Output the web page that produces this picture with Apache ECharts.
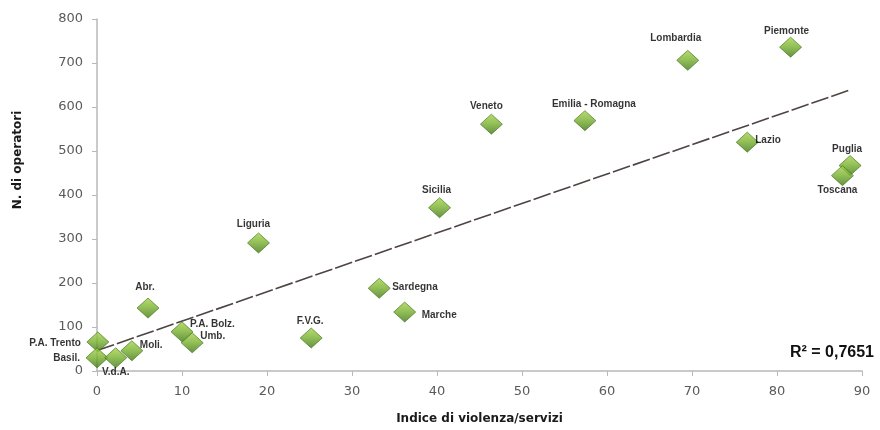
<!DOCTYPE html>
<html>
<head>
<meta charset="utf-8">
<script src="https://cdn.jsdelivr.net/npm/echarts@6/dist/echarts.min.js"></script>
<style>
html,body{margin:0;padding:0;background:#fff;}
#chart{width:880px;height:430px;}
</style>
</head>
<body>
<div id="chart"></div>
<script>
// ---- Data ----
var regions = ["Piemonte","Lombardia","Lazio","Puglia","Toscana","Veneto","Emilia - Romagna","Sicilia","Liguria","Sardegna","Marche","F.V.G.","Abr.","P.A. Bolz.","Umb.","Moli.","P.A. Trento","Basil.","V.d.A."];
var indiceViolenza = [81.6, 69.5, 76.5, 88.6, 87.7, 46.4, 57.4, 40.3, 19.0, 33.2, 36.2, 25.2, 6.0, 10.0, 11.2, 4.1, 0.1, 0.0, 2.2];
var nOperatori   = [736, 706, 520, 467, 444, 561, 569, 371, 291, 188, 134, 75, 143, 89, 64, 46, 66, 30, 30];
var xTicks = [0,10,20,30,40,50,60,70,80,90];
var yTicks = [0,100,200,300,400,500,600,700,800];
var r2Text = "R² = 0,7651";

// ---- Label placement (styling only): [align, dx, dy] relative to marker centre ----
var labelPlacement = {
  "Piemonte":["center",-4,-16],
  "Lombardia":["center",-12,-22],
  "Lazio":["left",8,-2],
  "Puglia":["center",-3,-16],
  "Toscana":["center",-5,15],
  "Veneto":["center",-5,-18],
  "Emilia - Romagna":["center",9,-16],
  "Sicilia":["center",-3,-18],
  "Liguria":["center",-5,-19],
  "Sardegna":["left",13,-1],
  "Marche":["left",17,3],
  "F.V.G.":["center",-1,-17],
  "Abr.":["center",-3,-21],
  "P.A. Bolz.":["left",8,-8],
  "Umb.":["left",8,-7],
  "Moli.":["left",8,-6],
  "P.A. Trento":["right",-17,1],
  "Basil.":["right",-17,0],
  "V.d.A.":["center",0,14]
};

// ---- Linear regression for the trendline ----
var n = indiceViolenza.length, sx=0, sy=0, sxx=0, sxy=0;
for (var i=0;i<n;i++){ sx+=indiceViolenza[i]; sy+=nOperatori[i]; sxx+=indiceViolenza[i]*indiceViolenza[i]; sxy+=indiceViolenza[i]*nOperatori[i]; }
var slope = (n*sxy - sx*sy)/(n*sxx - sx*sx);
var intercept = (sy - slope*sx)/n;
var minX = Math.min.apply(null, indiceViolenza), maxX = Math.max.apply(null, indiceViolenza);
var trend = [[minX, intercept+slope*minX],[maxX, intercept+slope*maxX]];

var pts = regions.map(function(name, i){
  var p = labelPlacement[name];
  return {
    name: name,
    value: [indiceViolenza[i], nOperatori[i]],
    label: {show:true, position:'inside', align:p[0], verticalAlign:'middle', offset:[p[1], p[2]]}
  };
});

var chart = echarts.init(document.getElementById('chart'), null, {renderer:'canvas'});
chart.setOption({
  animation:false,
  backgroundColor:'#ffffff',
  grid:{left:97, right:18, top:19, bottom:57, containLabel:false},
  xAxis:{
    type:'value', min:xTicks[0], max:xTicks[xTicks.length-1], interval:10,
    name:'Indice di violenza/servizi', nameLocation:'middle', nameGap:42,
    nameTextStyle:{fontFamily:'DejaVu Sans', fontWeight:'bold', fontSize:12, color:'#1a1a1a'},
    axisLine:{show:true, onZero:false, lineStyle:{color:'#b8b8b8', width:1.5}},
    axisTick:{show:true, length:5, lineStyle:{color:'#b8b8b8'}},
    axisLabel:{fontFamily:'DejaVu Sans', fontSize:13, color:'#5a5a5a', margin:14},
    splitLine:{show:false}
  },
  yAxis:{
    type:'value', min:yTicks[0], max:yTicks[yTicks.length-1], interval:100,
    axisLine:{show:true, onZero:false, lineStyle:{color:'#b8b8b8', width:1.5}},
    axisTick:{show:true, length:5, lineStyle:{color:'#b8b8b8'}},
    axisLabel:{fontFamily:'DejaVu Sans', fontSize:13, color:'#5a5a5a', margin:14},
    splitLine:{show:false}
  },
  graphic:[
    {type:'text', rotation:Math.PI/2, x:18, y:160, style:{text:'N. di operatori', font:'bold 12px "DejaVu Sans"', fill:'#1a1a1a', textAlign:'center', textVerticalAlign:'middle'}},
    {type:'text', right:6, top:345, style:{text:r2Text, font:'bold 16px "Liberation Sans"', fill:'#111'}}
  ],
  series:[
    {
      type:'line', data:trend, symbol:'none', silent:true, z:1,
      lineStyle:{color:'#4e4442', width:1.6, type:[18,3]}
    },
    {
      type:'scatter', data:pts, symbol:'diamond', symbolSize:[22,20], z:3,
      itemStyle:{
        color:new echarts.graphic.LinearGradient(0,0,0,1,[{offset:0,color:'#a6d44c'},{offset:0.45,color:'#7ab22e'},{offset:1,color:'#3f7614'}]),
        borderColor:'#3f6f16', borderWidth:0.8
      },
      label:{
        formatter:'{b}', fontFamily:'Liberation Sans', fontWeight:'bold', fontSize:10, color:'#000'
      }
    }
  ]
});
</script>
</body>
</html>
